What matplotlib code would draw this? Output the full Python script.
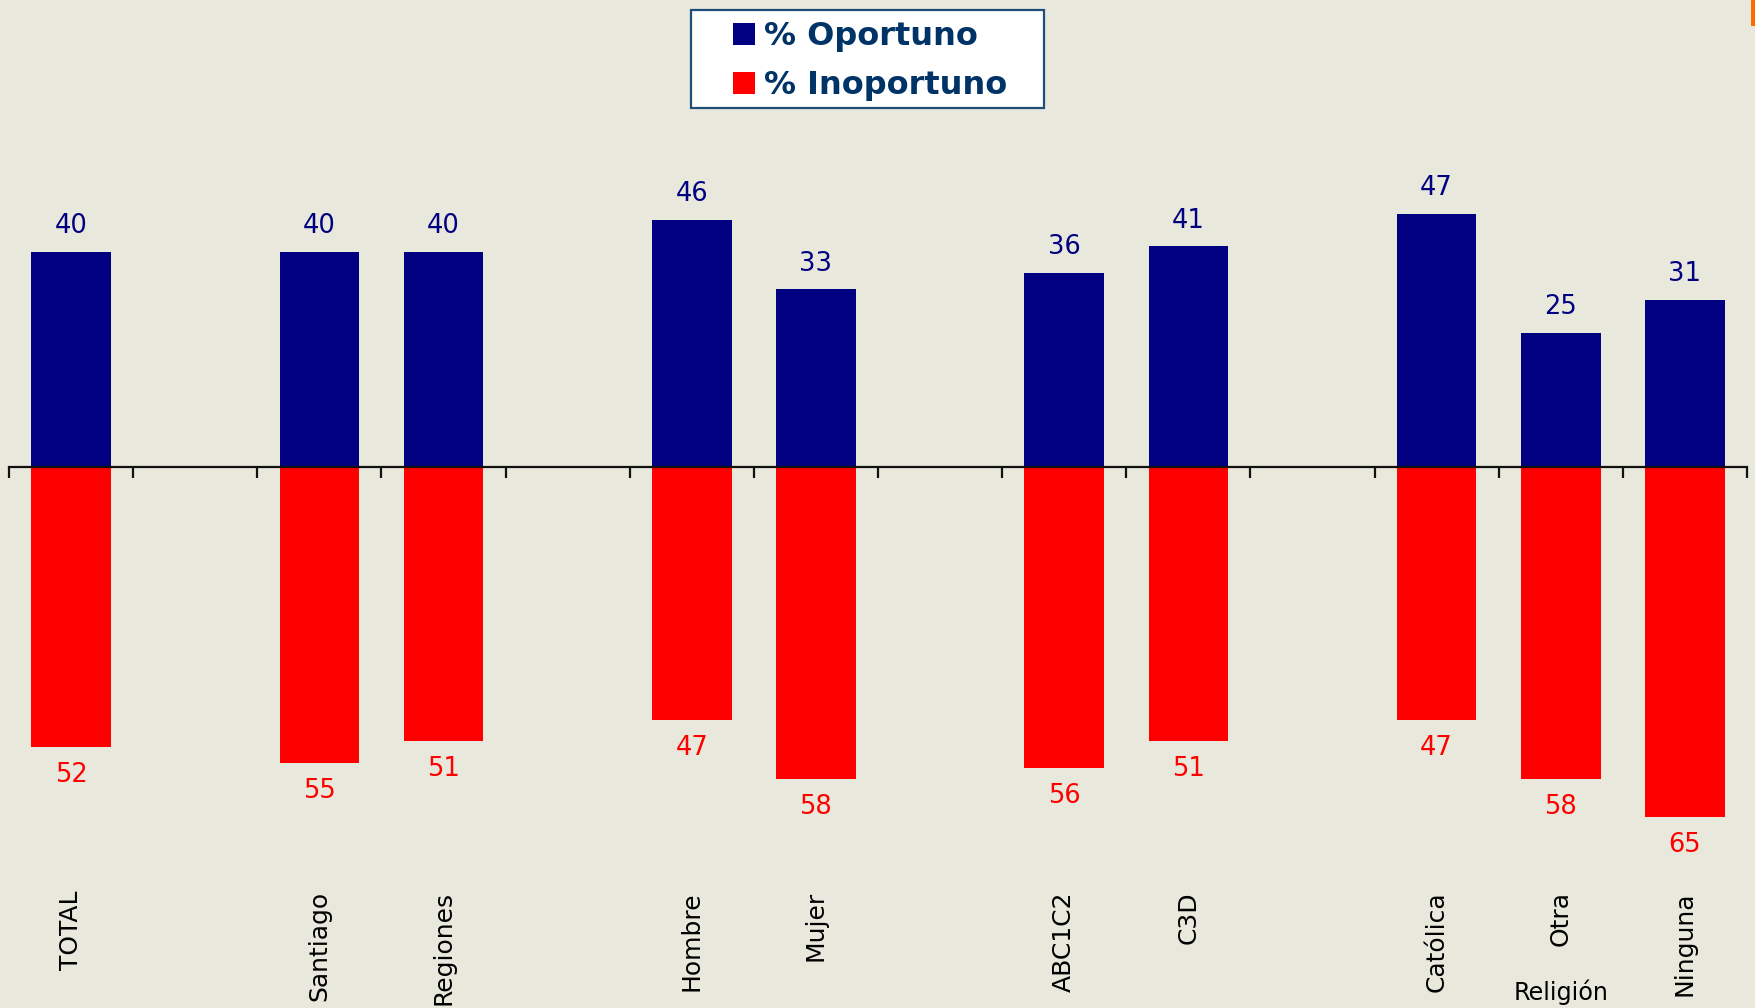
import numpy as np
import matplotlib
matplotlib.use("Agg")
import matplotlib.pyplot as plt
from matplotlib.patches import Patch, Rectangle

categories = ["TOTAL", "", "Santiago", "Regiones", "", "Hombre", "Mujer", "",
              "ABC1C2", "C3D", "", "Católica", "Otra", "Ninguna"]
oportuno = [40, np.nan, 40, 40, np.nan, 46, 33, np.nan, 36, 41, np.nan, 47, 25, 31]
inoportuno = [52, np.nan, 55, 51, np.nan, 47, 58, np.nan, 56, 51, np.nan, 47, 58, 65]
group_label = "Religión"
group_label_cat = "Otra"
legend_labels = ["% Oportuno", "% Inoportuno"]

BG = "#E8E8DD"
BLUE = "#000080"
RED = "#FF0000"

W, H = 1756, 1008
fig = plt.figure(figsize=(W / 100, H / 100), dpi=100, facecolor=BG)

# axes placement (pixels)
left_px, right_px = 9, 1747
zero_px = 467
ppu = 5.38
ymin, ymax = -75, 80
top_px = zero_px - ymax * ppu
bot_px = zero_px - ymin * ppu
ax = fig.add_axes([left_px / W, 1 - bot_px / H, (right_px - left_px) / W, (bot_px - top_px) / H])
ax.set_facecolor(BG)

x = np.arange(len(categories))
opo = np.array(oportuno, dtype=float)
ino = np.array(inoportuno, dtype=float)
ax.bar(x, opo, width=0.64, color=BLUE, zorder=2)
ax.bar(x, -ino, width=0.64, color=RED, zorder=2)

ax.set_xlim(-0.5, len(categories) - 0.5)
ax.set_ylim(ymin, ymax)

for s in ["top", "right", "left"]:
    ax.spines[s].set_visible(False)
ax.spines["bottom"].set_position(("data", 0))
ax.spines["bottom"].set_linewidth(1.6)
ax.spines["bottom"].set_color("#111111")
ax.spines["bottom"].set_zorder(3)
ax.set_yticks([])
ax.set_xticks(np.arange(-0.5, len(categories), 1.0))
ax.set_xticklabels([])
ax.tick_params(axis="x", direction="out", length=8, width=1.6, color="#111111")

for xi, v in zip(x, opo):
    if not np.isnan(v):
        ax.text(xi, v + 4.8, f"{v:.0f}", ha="center", va="center", fontsize=18.5, color=BLUE)
for xi, v in zip(x, ino):
    if not np.isnan(v):
        ax.text(xi, -v - 5.2, f"{v:.0f}", ha="center", va="center", fontsize=18.5, color=RED)

label_trans = matplotlib.transforms.blended_transform_factory(ax.transData, fig.transFigure)
for xi, c in zip(x, categories):
    if c:
        ax.text(xi, 1 - 891 / H, c, rotation=90, ha="center", va="top", fontsize=18,
                color="black", transform=label_trans)
gi = categories.index(group_label_cat)
ax.text(gi, 1 - 992 / H, group_label, ha="center", va="center", fontsize=17.2,
        color="black", transform=label_trans)

# legend frame
fig.patches.append(Rectangle((691 / W, 1 - 108 / H), (1044 - 691) / W, (108 - 10) / H,
                             transform=fig.transFigure, facecolor="white",
                             edgecolor="#1F4E79", linewidth=1.6, zorder=5))
handles = [Patch(facecolor=BLUE, edgecolor="none"), Patch(facecolor=RED, edgecolor="none")]
leg = fig.legend(handles, legend_labels, loc="center left",
                 bbox_to_anchor=(733 / W, 1 - 61 / H),
                 prop={"weight": "bold", "size": 23}, frameon=False,
                 handlelength=0.68, handleheight=0.68, handletextpad=0.3,
                 labelspacing=0.55, borderpad=0, borderaxespad=0)
leg.set_zorder(6)
for t in leg.get_texts():
    t.set_color("#003366")

fig.patches.append(Rectangle((1751 / W, 1 - 26 / H), 5 / W, 26 / H,
                             transform=fig.transFigure, facecolor="#FF6A00", edgecolor="none"))

fig.savefig("out.png", dpi=100, facecolor=BG)
